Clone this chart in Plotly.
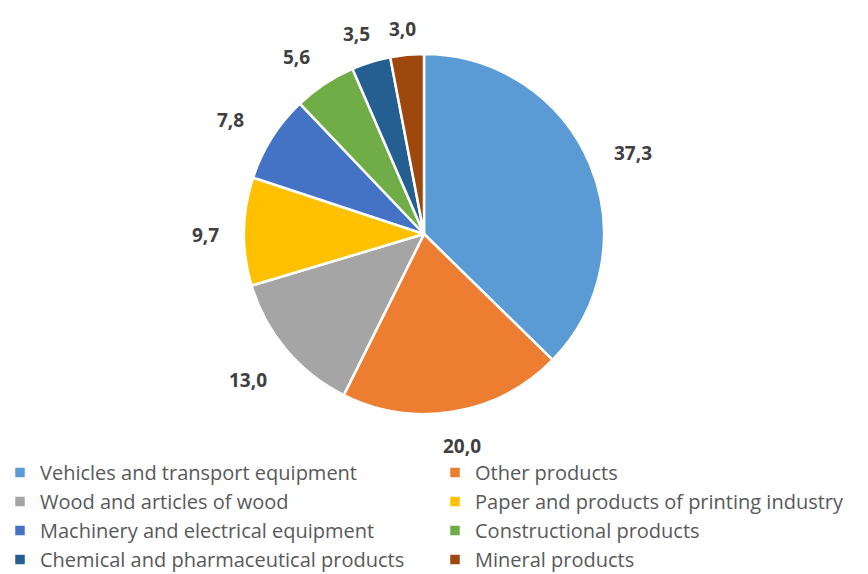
import math
import plotly.graph_objects as go

categories = [
    "Vehicles and transport equipment",
    "Other products",
    "Wood and articles of wood",
    "Paper and products of printing industry",
    "Machinery and electrical equipment",
    "Constructional products",
    "Chemical and pharmaceutical products",
    "Mineral products",
]
values = [37.3, 20.0, 13.0, 9.7, 7.8, 5.6, 3.5, 3.0]
colors = ["#5B9BD5", "#ED7D31", "#A5A5A5", "#FFC000", "#4472C4", "#70AD47", "#255E91", "#9E480E"]

W, H = 868, 574
cx, cy, R = 424, 234, 180

fig = go.Figure(go.Pie(
    labels=categories,
    values=values,
    sort=False,
    direction="clockwise",
    rotation=0,
    textinfo="none",
    hoverinfo="label+value",
    marker=dict(colors=colors, line=dict(color="white", width=2.5)),
    domain=dict(x=[(cx - R) / W, (cx + R) / W], y=[1 - (cy + R) / H, 1 - (cy - R) / H]),
))

total = sum(values)
cum = 0.0
annotations = []
for v in values:
    mid = (cum + v / 2) / total * 2 * math.pi
    cum += v
    s, c = math.sin(mid), math.cos(mid)
    r = R + 18 + abs(s) * 20 + abs(c) * 10
    px = cx + r * s + 16 * s * abs(c)
    py = cy - r * c + 4
    annotations.append(dict(
        x=px / W, y=1 - py / H, xref="paper", yref="paper",
        text="<b>" + f"{v:.1f}".replace(".", ",") + "</b>",
        showarrow=False, xanchor="center", yanchor="middle",
        font=dict(family="Open Sans", size=19, color="#404040"),
    ))

fig.update_layout(
    width=W, height=H,
    margin=dict(l=0, r=0, t=0, b=0, autoexpand=False),
    paper_bgcolor="white",
    showlegend=True,
    legend=dict(
        orientation="h", x=0, y=1 - 453 / H, xanchor="left", yanchor="top",
        entrywidth=390, entrywidthmode="pixels",
        font=dict(family="Open Sans", size=20, color="#595959"),
        itemwidth=30, traceorder="normal",
    ),
    annotations=annotations,
)

fig.write_html("out.html")
